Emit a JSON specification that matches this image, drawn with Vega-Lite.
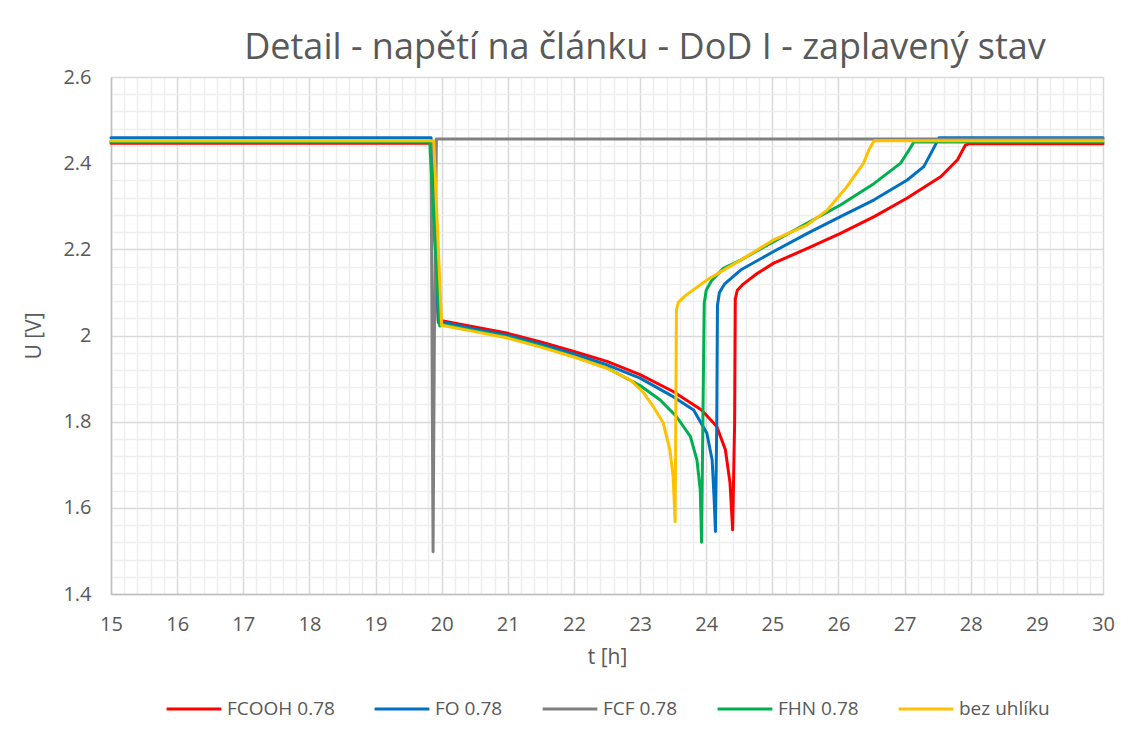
{
  "$schema": "https://vega.github.io/schema/vega-lite/v6.json",
  "width": 992,
  "height": 517,
  "autosize": {"type": "none"},
  "padding": {"left": 111, "top": 77, "right": 31, "bottom": 144},
  "background": "white",
  "config": {
    "font": "Open Sans",
    "view": {"stroke": null},
    "legend": {
      "layout": {"bottom": {"anchor": "middle"}}
    }
  },
  "title": {
    "text": "Detail - napětí na článku - DoD I - zaplavený stav",
    "fontSize": 36,
    "fontWeight": "normal",
    "color": "#595959",
    "font": "Open Sans",
    "anchor": "middle",
    "dx": 38,
    "offset": 0
  },
  "data": {
    "values": [
      {"s": "FCOOH 0.78", "t": 15, "u": 2.446},
      {"s": "FCOOH 0.78", "t": 19.84, "u": 2.446},
      {"s": "FCOOH 0.78", "t": 19.95, "u": 2.035},
      {"s": "FCOOH 0.78", "t": 20.02, "u": 2.034},
      {"s": "FCOOH 0.78", "t": 20.5, "u": 2.02},
      {"s": "FCOOH 0.78", "t": 21.0, "u": 2.005},
      {"s": "FCOOH 0.78", "t": 21.5, "u": 1.985},
      {"s": "FCOOH 0.78", "t": 22.0, "u": 1.963},
      {"s": "FCOOH 0.78", "t": 22.5, "u": 1.94},
      {"s": "FCOOH 0.78", "t": 23.0, "u": 1.909},
      {"s": "FCOOH 0.78", "t": 23.5, "u": 1.87},
      {"s": "FCOOH 0.78", "t": 23.93, "u": 1.827},
      {"s": "FCOOH 0.78", "t": 24.16, "u": 1.789},
      {"s": "FCOOH 0.78", "t": 24.29, "u": 1.735},
      {"s": "FCOOH 0.78", "t": 24.36, "u": 1.658},
      {"s": "FCOOH 0.78", "t": 24.4, "u": 1.549},
      {"s": "FCOOH 0.78", "t": 24.43, "u": 1.8},
      {"s": "FCOOH 0.78", "t": 24.44, "u": 2.085},
      {"s": "FCOOH 0.78", "t": 24.47, "u": 2.105},
      {"s": "FCOOH 0.78", "t": 24.55, "u": 2.118},
      {"s": "FCOOH 0.78", "t": 24.77, "u": 2.144},
      {"s": "FCOOH 0.78", "t": 25.02, "u": 2.168},
      {"s": "FCOOH 0.78", "t": 25.53, "u": 2.202},
      {"s": "FCOOH 0.78", "t": 26.03, "u": 2.237},
      {"s": "FCOOH 0.78", "t": 26.54, "u": 2.276},
      {"s": "FCOOH 0.78", "t": 27.04, "u": 2.319},
      {"s": "FCOOH 0.78", "t": 27.55, "u": 2.369},
      {"s": "FCOOH 0.78", "t": 27.8, "u": 2.408},
      {"s": "FCOOH 0.78", "t": 27.92, "u": 2.442},
      {"s": "FCOOH 0.78", "t": 27.97, "u": 2.445},
      {"s": "FCOOH 0.78", "t": 30, "u": 2.445},

      {"s": "FO 0.78", "t": 15, "u": 2.459},
      {"s": "FO 0.78", "t": 19.84, "u": 2.459},
      {"s": "FO 0.78", "t": 19.95, "u": 2.03},
      {"s": "FO 0.78", "t": 20.02, "u": 2.031},
      {"s": "FO 0.78", "t": 20.5, "u": 2.015},
      {"s": "FO 0.78", "t": 21.0, "u": 2.0},
      {"s": "FO 0.78", "t": 21.5, "u": 1.98},
      {"s": "FO 0.78", "t": 22.0, "u": 1.957},
      {"s": "FO 0.78", "t": 22.5, "u": 1.932},
      {"s": "FO 0.78", "t": 23.0, "u": 1.901},
      {"s": "FO 0.78", "t": 23.5, "u": 1.858},
      {"s": "FO 0.78", "t": 23.81, "u": 1.827},
      {"s": "FO 0.78", "t": 24.01, "u": 1.773},
      {"s": "FO 0.78", "t": 24.09, "u": 1.711},
      {"s": "FO 0.78", "t": 24.12, "u": 1.62},
      {"s": "FO 0.78", "t": 24.14, "u": 1.545},
      {"s": "FO 0.78", "t": 24.16, "u": 1.8},
      {"s": "FO 0.78", "t": 24.17, "u": 2.07},
      {"s": "FO 0.78", "t": 24.2, "u": 2.1},
      {"s": "FO 0.78", "t": 24.28, "u": 2.12},
      {"s": "FO 0.78", "t": 24.52, "u": 2.152},
      {"s": "FO 0.78", "t": 25.02, "u": 2.195},
      {"s": "FO 0.78", "t": 25.53, "u": 2.237},
      {"s": "FO 0.78", "t": 26.03, "u": 2.276},
      {"s": "FO 0.78", "t": 26.54, "u": 2.315},
      {"s": "FO 0.78", "t": 27.04, "u": 2.361},
      {"s": "FO 0.78", "t": 27.29, "u": 2.392},
      {"s": "FO 0.78", "t": 27.44, "u": 2.435},
      {"s": "FO 0.78", "t": 27.52, "u": 2.459},
      {"s": "FO 0.78", "t": 30, "u": 2.459},

      {"s": "FCF 0.78", "t": 15, "u": 2.451},
      {"s": "FCF 0.78", "t": 19.84, "u": 2.451},
      {"s": "FCF 0.78", "t": 19.86, "u": 1.8},
      {"s": "FCF 0.78", "t": 19.87, "u": 1.498},
      {"s": "FCF 0.78", "t": 19.89, "u": 2.0},
      {"s": "FCF 0.78", "t": 19.92, "u": 2.456},
      {"s": "FCF 0.78", "t": 30, "u": 2.456},

      {"s": "FHN 0.78", "t": 15, "u": 2.449},
      {"s": "FHN 0.78", "t": 19.82, "u": 2.449},
      {"s": "FHN 0.78", "t": 19.97, "u": 2.022},
      {"s": "FHN 0.78", "t": 20.02, "u": 2.025},
      {"s": "FHN 0.78", "t": 20.5, "u": 2.011},
      {"s": "FHN 0.78", "t": 21.0, "u": 1.996},
      {"s": "FHN 0.78", "t": 21.5, "u": 1.975},
      {"s": "FHN 0.78", "t": 22.0, "u": 1.951},
      {"s": "FHN 0.78", "t": 22.5, "u": 1.925},
      {"s": "FHN 0.78", "t": 23.0, "u": 1.884},
      {"s": "FHN 0.78", "t": 23.3, "u": 1.851},
      {"s": "FHN 0.78", "t": 23.55, "u": 1.812},
      {"s": "FHN 0.78", "t": 23.76, "u": 1.766},
      {"s": "FHN 0.78", "t": 23.86, "u": 1.711},
      {"s": "FHN 0.78", "t": 23.91, "u": 1.642},
      {"s": "FHN 0.78", "t": 23.93, "u": 1.52},
      {"s": "FHN 0.78", "t": 23.95, "u": 1.8},
      {"s": "FHN 0.78", "t": 23.97, "u": 2.075},
      {"s": "FHN 0.78", "t": 24.0, "u": 2.105},
      {"s": "FHN 0.78", "t": 24.08, "u": 2.127},
      {"s": "FHN 0.78", "t": 24.26, "u": 2.156},
      {"s": "FHN 0.78", "t": 24.52, "u": 2.175},
      {"s": "FHN 0.78", "t": 25.02, "u": 2.218},
      {"s": "FHN 0.78", "t": 25.53, "u": 2.261},
      {"s": "FHN 0.78", "t": 26.03, "u": 2.303},
      {"s": "FHN 0.78", "t": 26.54, "u": 2.353},
      {"s": "FHN 0.78", "t": 26.94, "u": 2.4},
      {"s": "FHN 0.78", "t": 27.07, "u": 2.431},
      {"s": "FHN 0.78", "t": 27.14, "u": 2.449},
      {"s": "FHN 0.78", "t": 30, "u": 2.449},

      {"s": "bez uhlíku", "t": 15, "u": 2.452},
      {"s": "bez uhlíku", "t": 19.88, "u": 2.452},
      {"s": "bez uhlíku", "t": 20.0, "u": 2.023},
      {"s": "bez uhlíku", "t": 20.02, "u": 2.023},
      {"s": "bez uhlíku", "t": 20.5, "u": 2.009},
      {"s": "bez uhlíku", "t": 21.0, "u": 1.994},
      {"s": "bez uhlíku", "t": 21.5, "u": 1.973},
      {"s": "bez uhlíku", "t": 22.0, "u": 1.95},
      {"s": "bez uhlíku", "t": 22.5, "u": 1.924},
      {"s": "bez uhlíku", "t": 22.85, "u": 1.897},
      {"s": "bez uhlíku", "t": 23.05, "u": 1.868},
      {"s": "bez uhlíku", "t": 23.2, "u": 1.835},
      {"s": "bez uhlíku", "t": 23.35, "u": 1.797},
      {"s": "bez uhlíku", "t": 23.45, "u": 1.735},
      {"s": "bez uhlíku", "t": 23.5, "u": 1.673},
      {"s": "bez uhlíku", "t": 23.53, "u": 1.568},
      {"s": "bez uhlíku", "t": 23.54, "u": 1.8},
      {"s": "bez uhlíku", "t": 23.55, "u": 2.06},
      {"s": "bez uhlíku", "t": 23.58, "u": 2.077},
      {"s": "bez uhlíku", "t": 23.68, "u": 2.092},
      {"s": "bez uhlíku", "t": 24.01, "u": 2.129},
      {"s": "bez uhlíku", "t": 24.52, "u": 2.175},
      {"s": "bez uhlíku", "t": 25.02, "u": 2.222},
      {"s": "bez uhlíku", "t": 25.53, "u": 2.257},
      {"s": "bez uhlíku", "t": 25.83, "u": 2.291},
      {"s": "bez uhlíku", "t": 26.13, "u": 2.346},
      {"s": "bez uhlíku", "t": 26.38, "u": 2.4},
      {"s": "bez uhlíku", "t": 26.46, "u": 2.431},
      {"s": "bez uhlíku", "t": 26.54, "u": 2.452},
      {"s": "bez uhlíku", "t": 30, "u": 2.452}
    ]
  },
  "layer": [
    {
      "mark": {"type": "line", "opacity": 0, "strokeWidth": 0},
      "encoding": {
        "x": {
          "field": "t", "type": "quantitative",
          "scale": {"domain": [15, 30], "nice": false, "zero": false},
          "axis": {
            "orient": "bottom",
            "values": [15.2,15.4,15.6,15.8,16.2,16.4,16.6,16.8,17.2,17.4,17.6,17.8,18.2,18.4,18.6,18.8,19.2,19.4,19.6,19.8,20.2,20.4,20.6,20.8,21.2,21.4,21.6,21.8,22.2,22.4,22.6,22.8,23.2,23.4,23.6,23.8,24.2,24.4,24.6,24.8,25.2,25.4,25.6,25.8,26.2,26.4,26.6,26.8,27.2,27.4,27.6,27.8,28.2,28.4,28.6,28.8,29.2,29.4,29.6,29.8],
            "grid": true, "gridColor": "#eeeeee", "gridWidth": 1.5,
            "labels": false, "ticks": false, "domain": false, "title": null
          }
        },
        "y": {
          "field": "u", "type": "quantitative",
          "scale": {"domain": [1.4, 2.6], "nice": false, "zero": false},
          "axis": {
            "orient": "left",
            "values": [1.44,1.48,1.52,1.56,1.64,1.68,1.72,1.76,1.84,1.88,1.92,1.96,2.04,2.08,2.12,2.16,2.24,2.28,2.32,2.36,2.44,2.48,2.52,2.56],
            "grid": true, "gridColor": "#eeeeee", "gridWidth": 1.5,
            "labels": false, "ticks": false, "domain": false, "title": null
          }
        }
      }
    },
    {
      "mark": {"type": "line", "strokeWidth": 3, "strokeJoin": "round", "strokeCap": "round"},
      "encoding": {
        "x": {
          "field": "t", "type": "quantitative",
          "axis": {
            "orient": "bottom",
            "values": [15,16,17,18,19,20,21,22,23,24,25,26,27,28,29,30],
            "grid": true, "gridColor": "#d9d9d9", "gridWidth": 1.5,
            "domain": true, "domainColor": "#bfbfbf", "domainWidth": 1.5,
            "ticks": false, "tickSize": 0,
            "labelFlush": false,
            "labelFontSize": 20, "labelColor": "#595959", "labelPadding": 20,
            "title": "t [h]", "titleFontSize": 21, "titleFontWeight": "normal",
            "titleColor": "#595959", "titlePadding": 12
          }
        },
        "y": {
          "field": "u", "type": "quantitative",
          "axis": {
            "orient": "left",
            "values": [1.4,1.6,1.8,2,2.2,2.4,2.6],
            "format": ".1~f",
            "labelFlush": false,
            "grid": true, "gridColor": "#d9d9d9", "gridWidth": 1.5,
            "domain": true, "domainColor": "#bfbfbf", "domainWidth": 1.5,
            "ticks": false, "tickSize": 0,
            "labelFontSize": 20, "labelColor": "#595959", "labelPadding": 20,
            "title": "U [V]", "titleFontSize": 21, "titleFontWeight": "normal",
            "titleColor": "#595959", "titlePadding": 18
          }
        },
        "color": {
          "field": "s", "type": "nominal",
          "scale": {
            "domain": ["FCOOH 0.78", "FO 0.78", "FCF 0.78", "FHN 0.78", "bez uhlíku"],
            "range": ["#FF0000", "#0070C0", "#808080", "#00B050", "#FFC000"]
          },
          "legend": {
            "orient": "bottom",
            "direction": "horizontal",
            "title": null,
            "symbolType": "stroke",
            "symbolSize": 3000,
            "symbolStrokeWidth": 3,
            "labelFontSize": 19,
            "labelColor": "#595959",
            "labelOffset": 4,
            "columnPadding": 33,
            "offset": 13
          }
        }
      }
    }
  ],
  "resolve": {"axis": {"x": "independent", "y": "independent"}}
}
